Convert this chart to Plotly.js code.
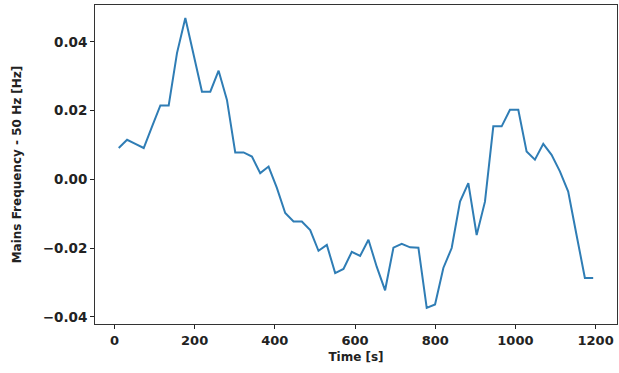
<!DOCTYPE html>
<html>
<head>
<meta charset="utf-8">
<script src="https://cdn.plot.ly/plotly-3.0.1.min.js"></script>
<style>html,body{margin:0;padding:0;background:#fff;}#chart{width:619px;height:373px;}</style>
</head>
<body>
<div id="chart"></div>
<script>
const timeSeconds = [10.7, 31.5, 52.2, 73.0, 93.7, 114.5, 135.3, 156.0, 176.8, 197.5,
  218.3, 239.1, 259.8, 280.6, 301.3, 322.1, 342.9, 363.6, 384.4, 405.1,
  425.9, 446.7, 467.4, 488.2, 508.9, 529.7, 550.5, 571.2, 592.0, 612.7,
  633.5, 654.3, 675.0, 695.8, 716.5, 737.3, 758.1, 778.8, 799.6, 820.3,
  841.1, 861.9, 882.6, 903.4, 924.1, 944.9, 965.7, 986.4, 1007.2, 1027.9,
  1048.7, 1069.5, 1090.2, 1111.0, 1131.7, 1152.5, 1173.3, 1194.0];
const freqDeviationHz = [0.0091, 0.0115, 0.0103, 0.0091, 0.0153, 0.0215, 0.0215, 0.0367, 0.0469, 0.0362,
  0.0255, 0.0255, 0.0316, 0.0231, 0.0078, 0.0078, 0.0066, 0.0018, 0.0037, -0.0025,
  -0.0098, -0.0123, -0.0123, -0.0148, -0.0208, -0.0191, -0.0273, -0.0261, -0.0211, -0.0223,
  -0.0176, -0.0255, -0.0323, -0.0199, -0.0188, -0.0198, -0.0199, -0.0374, -0.0364, -0.0258,
  -0.0200, -0.0065, -0.0011, -0.0162, -0.0065, 0.0154, 0.0154, 0.0202, 0.0202, 0.0081,
  0.0057, 0.0103, 0.0071, 0.0023, -0.0036, -0.0162, -0.0287, -0.0287];
const xTickValues = [0, 200, 400, 600, 800, 1000, 1200];
const yTickValues = [-0.04, -0.02, 0.00, 0.02, 0.04];
const xTitle = 'Time [s]';
const yTitle = 'Mains Frequency - 50 Hz [Hz]';

const xTickFont = {family: 'DejaVu Sans', size: 13, color: '#222', weight: 'bold'};
const yTickFont = {family: 'DejaVu Sans', size: 13.5, color: '#222', weight: 'bold'};
const titleFont = {family: 'DejaVu Sans', size: 12, color: '#222', weight: 'bold'};

const trace = {
  x: timeSeconds,
  y: freqDeviationHz,
  type: 'scatter',
  mode: 'lines',
  line: {color: '#2f7db5', width: 2},
  hoverinfo: 'skip'
};

const layout = {
  width: 619, height: 373,
  margin: {l: 95, r: 2, t: 5, b: 49},
  paper_bgcolor: '#fff', plot_bgcolor: '#fff',
  showlegend: false,
  xaxis: {
    range: [-48.5, 1253.4],
    tickvals: xTickValues,
    ticktext: xTickValues.map(String),
    ticks: 'outside', ticklen: 4, tickwidth: 1, tickcolor: '#222',
    showgrid: false, zeroline: false,
    showline: true, linecolor: '#333', linewidth: 1, mirror: true,
    tickfont: xTickFont,
    title: {text: xTitle, font: titleFont, standoff: 6},
    automargin: false
  },
  yaxis: {
    range: [-0.0421, 0.0507],
    tickvals: yTickValues,
    tickformat: '.2f',
    ticks: 'outside', ticklen: 4, tickwidth: 1, tickcolor: '#222',
    showgrid: false, zeroline: false,
    showline: true, linecolor: '#333', linewidth: 1, mirror: true,
    tickfont: yTickFont,
    title: {text: yTitle, font: titleFont, standoff: 18},
    automargin: false
  }
};

Plotly.newPlot('chart', [trace], layout, {staticPlot: true, displayModeBar: false});
</script>
</body>
</html>
